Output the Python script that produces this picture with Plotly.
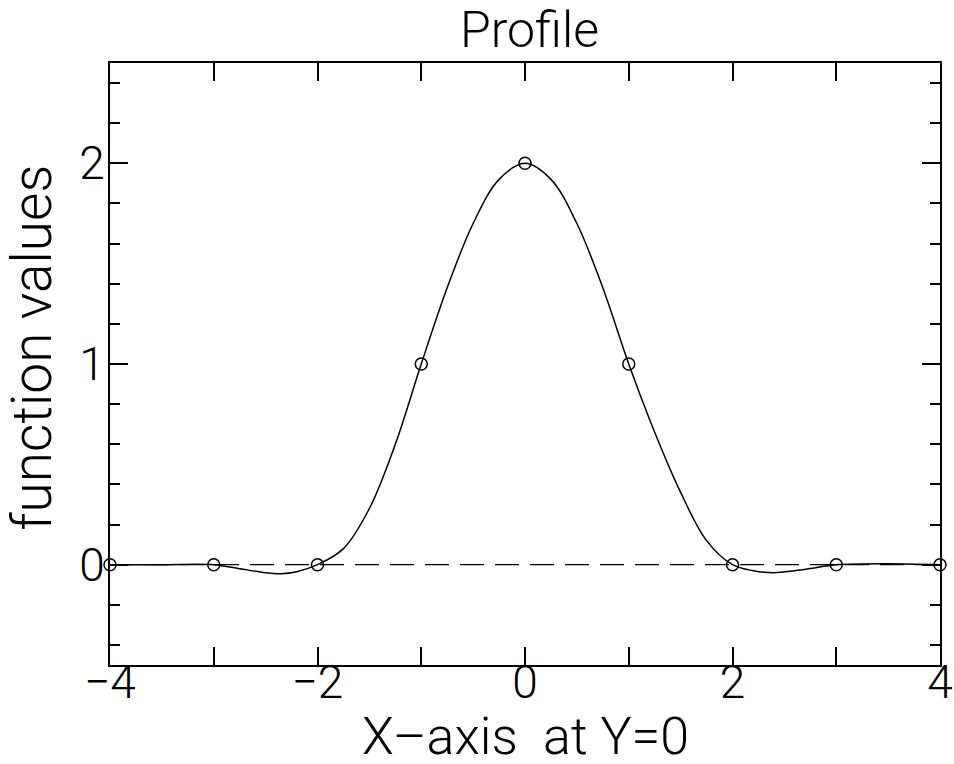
import plotly.graph_objects as go

# Sample nodes (open circles)
node_x = [-4, -3, -2, -1, 0, 1, 2, 3, 4]
node_y = [0.0, 0.0, 0.0, 1.0, 2.0, 1.0, 0.0, 0.0, 0.0]

# Smooth profile curve
curve_x = [-4, -3.5, -3, -2.75, -2.5, -2.35, -2.2, -2, -1.75, -1.5, -1.25, -1,
           -0.75, -0.5, -0.25, 0, 0.25, 0.5, 0.75, 1, 1.25, 1.5, 1.75, 2,
           2.2, 2.4, 2.6, 2.8, 3, 3.5, 4]
curve_y = [0.0, 0.0, 0.0, -0.02, -0.04, -0.045, -0.035, 0.0, 0.08, 0.28, 0.6, 1.0,
           1.38, 1.70, 1.92, 2.0, 1.92, 1.70, 1.38, 1.0, 0.66, 0.36, 0.12, 0.0,
           -0.03, -0.04, -0.03, -0.015, 0.0, 0.005, 0.0]

# Dashed reference line y = 0
ref_x = [-4, 4]
ref_y = [0, 0]

x_tickvals = [-4, -3, -2, -1, 0, 1, 2, 3, 4]
x_ticktext = ["\u22124", "", "\u22122", "", "0", "", "2", "", "4"]
y_tickvals = [0, 1, 2]
y_ticktext = ["0", "1", "2"]

title_text = "Profile"
x_title = "X\u2013axis  at Y=0"
y_title = "function values"

FONT = "Roboto, Liberation Sans, Arial, sans-serif"
W = 300

fig = go.Figure()
fig.add_trace(go.Scatter(x=ref_x, y=ref_y, mode="lines",
                         line=dict(color="black", width=1.3, dash="24px,11px"),
                         showlegend=False, hoverinfo="skip"))
fig.add_trace(go.Scatter(x=curve_x, y=curve_y, mode="lines",
                         line=dict(color="black", width=1.5, shape="spline", smoothing=1.0),
                         showlegend=False))
fig.add_trace(go.Scatter(x=node_x, y=node_y, mode="markers",
                         marker=dict(symbol="circle-open", size=12, color="black",
                                     line=dict(width=1.5, color="black")),
                         showlegend=False, cliponaxis=False))

fig.update_layout(
    width=954, height=764,
    margin=dict(l=110, r=14, t=63, b=99, autoexpand=False),
    paper_bgcolor="white", plot_bgcolor="white",
    font=dict(family=FONT, color="black", size=46, weight=W),
    title=dict(text=title_text, x=0.555, xanchor="center", y=0.962, yanchor="middle",
               font=dict(family=FONT, size=50, color="black", weight=W)),
    annotations=[
        dict(text=x_title, xref="paper", yref="paper", x=0.5, y=-0.119,
             xanchor="center", yanchor="middle", showarrow=False,
             font=dict(family=FONT, size=52, color="black", weight=W)),
        dict(text=y_title, xref="paper", yref="paper", x=-0.094, y=0.527,
             xanchor="center", yanchor="middle", showarrow=False, textangle=-90,
             font=dict(family=FONT, size=55, color="black", weight=W)),
    ],
)

fig.update_xaxes(
    range=[-4, 4], showgrid=False, zeroline=False, automargin=False,
    showline=True, linewidth=2, linecolor="black", mirror="allticks",
    ticks="inside", ticklen=18, tickwidth=1.5, tickcolor="black",
    tickmode="array", tickvals=x_tickvals, ticktext=x_ticktext,
    tickfont=dict(family=FONT, size=46, color="black", weight=W),
    ticklabelstandoff=-24,
)
fig.update_yaxes(
    range=[-0.5, 2.5], showgrid=False, zeroline=False, automargin=False,
    showline=True, linewidth=2, linecolor="black", mirror="allticks",
    ticks="inside", ticklen=18, tickwidth=1.5, tickcolor="black",
    tickmode="array", tickvals=y_tickvals, ticktext=y_ticktext,
    tickfont=dict(family=FONT, size=46, color="black", weight=W),
    ticklabelstandoff=-6,
    minor=dict(ticks="inside", ticklen=10, tickwidth=1.5, tickcolor="black",
               dtick=0.2, tick0=0, showgrid=False),
)

fig.write_html("out.html",
               config={"displayModeBar": False},
               post_script="document.body.style.margin='0px';document.body.style.overflow='hidden';")
